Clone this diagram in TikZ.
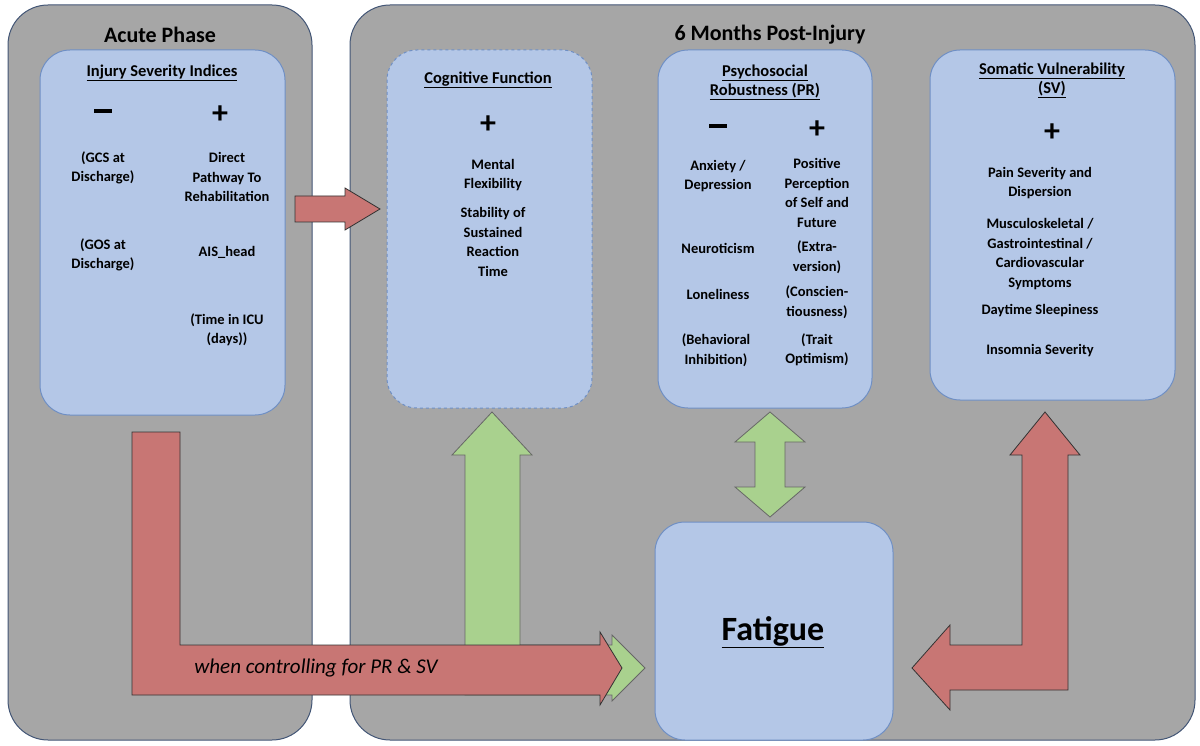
\documentclass[tikz,border=0pt]{standalone}
\usepackage{fontspec}
\setmainfont{Carlito}
\usetikzlibrary{positioning}
\definecolor{panelgray}{HTML}{A6A6A6}
\definecolor{boxblue}{HTML}{B4C7E7}
\definecolor{boxedge}{HTML}{6F8FC4}
\definecolor{arrred}{HTML}{C87674}
\definecolor{arrgreen}{HTML}{A9D18E}
\tikzset{
  panel/.style={fill=panelgray,draw=boxedge!60!black,rounded corners=40pt,line width=1pt},
  ibox/.style={fill=boxblue,draw=boxedge,rounded corners=30pt,line width=1pt},
  head/.style={font=\fontsize{22}{24}\selectfont\bfseries},
  btitle/.style={font=\fontsize{16.5}{19}\selectfont\bfseries,align=center},
  sign/.style={font=\fontsize{32}{30}\selectfont\bfseries},
  item/.style={font=\fontsize{14.5}{19.5}\selectfont\bfseries,align=center},
  redarr/.style={fill=arrred,draw=black!80,line width=0.8pt},
  greenarr/.style={fill=arrgreen,draw=black!60,line width=0.8pt}
}
\begin{document}
\begin{tikzpicture}[x=1pt,y=-1pt]
  \useasboundingbox (0,0) rectangle (1200,746);
  \fill[white] (0,0) rectangle (1200,746);

  % panels
  \draw[panel] (8,5) rectangle (312,740);
  \draw[panel] (350,5) rectangle (1195,740);
  \node[head] (acute) at (160,35) {Acute Phase};
  \node[head] (post) at (770,35) {6 Months Post-Injury};

  % boxes
  \draw[ibox] (40,50) rectangle (285,415);
  \draw[ibox,dashed] (387,50) rectangle (592,408);
  \draw[ibox] (658,50) rectangle (872,408);
  \draw[ibox] (930,50) rectangle (1175,400);
  \draw[ibox] (655,522) rectangle (893,740);

  % injury severity
  \node[btitle] (inj) at (162,73) {\underline{Injury Severity Indices}};
  \node[sign] (injm) at (103,115) {\rule[0.25em]{0.55em}{0.1em}};
  \node[sign] (injp) at (220,115) {+};
  \node[item] (gcs) at (103,168) {(GCS at\\Discharge)};
  \node[item] (gos) at (103,255) {(GOS at\\Discharge)};
  \node[item] (dpr) at (227,177) {Direct\\Pathway To\\Rehabilitation};
  \node[item] (ais) at (227,252) {AIS\_head};
  \node[item] (icu) at (227,330) {(Time in ICU\\(days))};

  % cognitive function
  \node[btitle] (cog) at (488,80) {\underline{Cognitive Function}};
  \node[sign] (cogp) at (488,125) {+};
  \node[item] (mflex) at (493,175) {Mental\\Flexibility};
  \node[item] (srt) at (493,242) {Stability of\\Sustained\\Reaction\\Time};

  % psychosocial robustness
  \node[btitle] (pr) at (765,82) {\underline{Psychosocial}\\\underline{Robustness (PR)}};
  \node[sign] (prm) at (718,130) {\rule[0.25em]{0.55em}{0.1em}};
  \node[sign] (prp) at (817,130) {+};
  \node[item] (anx) at (718,176) {Anxiety /\\Depression};
  \node[item] (neu) at (718,248) {Neuroticism};
  \node[item] (lon) at (718,294) {Loneliness};
  \node[item] (bis) at (716,350) {(Behavioral\\Inhibition)};
  \node[item] (pos) at (817,193) {Positive\\Perception\\of Self and\\Future};
  \node[item] (ext) at (817,257) {(Extra-\\version)};
  \node[item] (con) at (817,302) {(Conscien-\\tiousness)};
  \node[item] (opt) at (817,350) {(Trait\\Optimism)};

  % somatic vulnerability
  \node[btitle] (sv) at (1052,80) {\underline{Somatic Vulnerability}\\\underline{(SV)}};
  \node[sign] (svp) at (1052,133) {+};
  \node[item] (pain) at (1040,183) {Pain Severity and\\Dispersion};
  \node[item] (msk) at (1040,254) {Musculoskeletal /\\Gastrointestinal /\\Cardiovascular\\Symptoms};
  \node[item] (sleep) at (1040,311) {Daytime Sleepiness};
  \node[item] (ins) at (1040,351) {Insomnia Severity};

  \node[font=\fontsize{34}{36}\selectfont\bfseries] (fat) at (773,632) {\underline{Fatigue}};

  % arrows
  \draw[redarr] (295,196) -- (345,196) -- (345,188) -- (380,209) -- (345,230) -- (345,222) -- (295,222) -- cycle;
  \draw[greenarr] (452,455) -- (492,412) -- (532,455) -- (520,455) -- (520,645) -- (612,645) -- (612,635)
    -- (645,668) -- (612,701) -- (612,695) -- (465,695) -- (465,455) -- cycle;
  \draw[redarr] (132,432) -- (180,432) -- (180,645) -- (600,645) -- (600,632) -- (622,668) -- (600,705)
    -- (600,695) -- (132,695) -- cycle;
  \node[font=\fontsize{21}{24}\selectfont\itshape] (ctrl) at (316,668) {when controlling for PR \& SV};
  \draw[greenarr] (770,412) -- (805,442) -- (785,442) -- (785,487) -- (805,487) -- (770,517) -- (735,487)
    -- (755,487) -- (755,442) -- (735,442) -- cycle;
  \draw[redarr] (1045,412) -- (1080,455) -- (1068,455) -- (1068,690) -- (950,690) -- (950,710) -- (912,668)
    -- (950,625) -- (950,645) -- (1022,645) -- (1022,455) -- (1010,455) -- cycle;
\end{tikzpicture}
\end{document}
